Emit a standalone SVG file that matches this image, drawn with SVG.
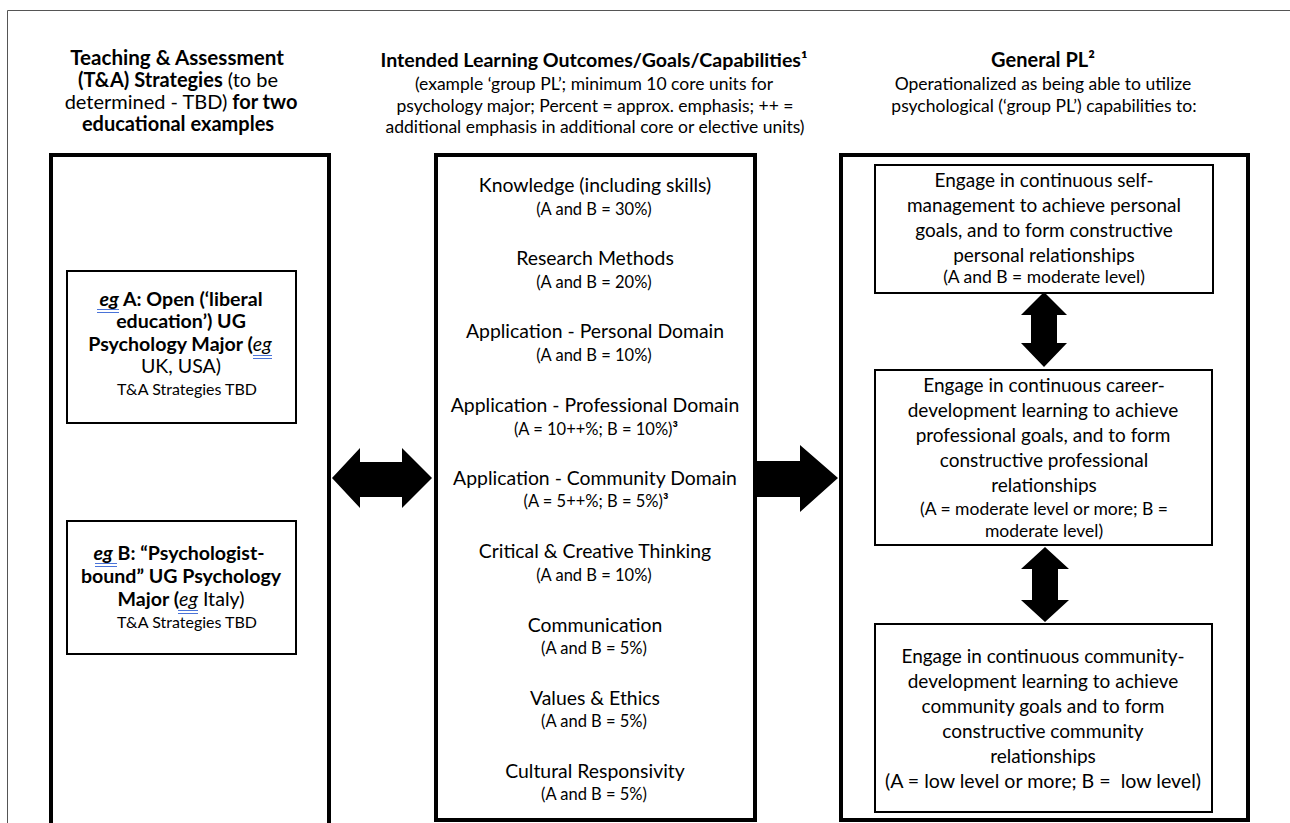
<svg xmlns="http://www.w3.org/2000/svg" width="1290" height="823" viewBox="0 0 1290 823">
<style>
text{font-family:Lato,"Liberation Sans",sans-serif;fill:#000;text-anchor:middle}
.h{font-size:20px;font-weight:bold}
.hs{font-size:17.5px}
.b{font-weight:bold}
.n{font-weight:normal}
.i{font-style:italic}
.t{font-size:19.4px}
.s{font-size:16.5px}
.rt{font-size:19px}
.rs{font-size:17.5px}
.lt{font-size:19.6px}
.ls{font-size:16px}
.big{fill:#fff;stroke:#000;stroke-width:4}
.box{fill:#fff;stroke:#000;stroke-width:2}
.sq{stroke:#4a73d8;stroke-width:1;fill:none}
.arr{fill:#000;stroke:none}
</style>
<rect width="1290" height="823" fill="#fff"/>
<path d="M7.5 823V10.5H1290" fill="none" stroke="#555" stroke-width="1"/>

<g id="heading-left">
<text class="h" x="177" y="65" style="font-size:20.6px">Teaching &amp; Assessment</text>
<text class="h" x="178" y="87">(T&amp;A) Strategies<tspan class="n"> (to be</tspan></text>
<text class="h" x="181" y="109"><tspan class="n">determined - TBD)</tspan> for two</text>
<text class="h" x="178" y="131">educational examples</text>
</g>

<g id="heading-middle">
<text class="h" x="594" y="67" style="font-size:19.6px">Intended Learning Outcomes/Goals/Capabilities¹</text>
<text class="hs" x="594" y="90">(example ‘group PL’; minimum 10 core units for</text>
<text class="hs" x="595" y="112">psychology major; Percent = approx. emphasis; ++ =</text>
<text class="hs" x="595" y="133">additional emphasis in additional core or elective units)</text>
</g>

<g id="heading-right">
<text class="h" x="1043" y="67">General PL²</text>
<text class="hs" x="1043" y="90">Operationalized as being able to utilize</text>
<text class="hs" x="1044" y="112">psychological (‘group PL’) capabilities to:</text>
</g>

<g id="node-left">
<rect class="big" x="51" y="155" width="278" height="680"/>
</g>

<g id="node-A">
<rect class="box" x="67" y="271" width="229" height="152"/>
<text class="lt b" x="181" y="306"><tspan class="i">eg</tspan> A: Open (‘liberal</text>
<text class="lt b" x="181" y="328">education’) UG</text>
<text class="lt b" x="180" y="351">Psychology Major (<tspan class="n i">eg</tspan></text>
<text class="lt" x="181" y="373">UK, USA)</text>
<text class="ls" x="187" y="395">T&amp;A Strategies TBD</text>
<path class="sq" d="M97 309.5h22M97 312.5h22M253 355.5h19M253 358.5h19"/>
</g>

<g id="node-B">
<rect class="box" x="67" y="521" width="229" height="133"/>
<text class="lt b" x="179" y="560"><tspan class="i">eg</tspan> B: “Psychologist-</text>
<text class="lt b" x="181" y="583">bound” UG Psychology</text>
<text class="lt b" x="181" y="606">Major (<tspan class="n i">eg</tspan><tspan class="n"> Italy)</tspan></text>
<text class="ls" x="187" y="628">T&amp;A Strategies TBD</text>
<path class="sq" d="M95 563.5h22M95 566.5h22M178 610.5h20M178 613.5h20"/>
</g>

<g id="node-middle">
<rect class="big" x="436" y="155" width="319" height="665"/>
<text class="t" x="595" y="192">Knowledge (including skills)</text>
<text class="s" x="594" y="215">(A and B = 30%)</text>
<text class="t" x="595" y="265">Research Methods</text>
<text class="s" x="594" y="288">(A and B = 20%)</text>
<text class="t" x="595" y="338">Application - Personal Domain</text>
<text class="s" x="594" y="361">(A and B = 10%)</text>
<text class="t" x="595" y="412">Application - Professional Domain</text>
<text class="s" x="596" y="435">(A = 10++%; B = 10%)<tspan class="b">³</tspan></text>
<text class="t" x="595" y="485">Application - Community Domain</text>
<text class="s" x="596" y="507">(A = 5++%; B = 5%)<tspan class="b">³</tspan></text>
<text class="t" x="595" y="558">Critical &amp; Creative Thinking</text>
<text class="s" x="594" y="581">(A and B = 10%)</text>
<text class="t" x="595" y="632">Communication</text>
<text class="s" x="594" y="654">(A and B = 5%)</text>
<text class="t" x="595" y="705">Values &amp; Ethics</text>
<text class="s" x="594" y="727">(A and B = 5%)</text>
<text class="t" x="595" y="778">Cultural Responsivity</text>
<text class="s" x="594" y="800">(A and B = 5%)</text>
</g>

<g id="node-right">
<rect class="big" x="841" y="155" width="407" height="665"/>
</g>

<g id="node-r1">
<rect class="box" x="875" y="165" width="338" height="128"/>
<text class="rt" x="1044" y="187">Engage in continuous self-</text>
<text class="rt" x="1044" y="212">management to achieve personal</text>
<text class="rt" x="1044" y="237">goals, and to form constructive</text>
<text class="rt" x="1044" y="262">personal relationships</text>
<text class="rs" x="1044" y="283">(A and B = moderate level)</text>
</g>

<g id="node-r2">
<rect class="box" x="875" y="370" width="337" height="175"/>
<text class="rt" x="1044" y="392">Engage in continuous career-</text>
<text class="rt" x="1043" y="417">development learning to achieve</text>
<text class="rt" x="1043" y="442">professional goals, and to form</text>
<text class="rt" x="1044" y="467">constructive professional</text>
<text class="rt" x="1044" y="492">relationships</text>
<text class="rs" x="1044" y="515">(A = moderate level or more; B =</text>
<text class="rs" x="1044" y="537">moderate level)</text>
</g>

<g id="node-r3">
<rect class="box" x="875" y="624" width="337" height="188"/>
<text class="rt" x="1043" y="663">Engage in continuous community-</text>
<text class="rt" x="1043" y="688">development learning to achieve</text>
<text class="rt" x="1043" y="713">community goals and to form</text>
<text class="rt" x="1043" y="738">constructive community</text>
<text class="rt" x="1043" y="763">relationships</text>
<text class="rt" x="1043" y="788" style="font-size:19.6px" xml:space="preserve">(A = low level or more; B =  low level)</text>
</g>

<g id="connectors">
<polygon class="arr" points="332,478 360,448 360,462 402,462 402,448 432,478 402,508 402,497 360,497 360,508"/>
<polygon class="arr" points="755,461 800,461 800,445 838,478 800,512 800,497 755,497"/>
<polygon class="arr" points="1044,292 1067,315 1057,315 1057,343 1067,343 1044,367 1021,343 1031,343 1031,315 1021,315"/>
<polygon class="arr" points="1045,547 1069,569 1058,569 1058,600 1069,600 1045,622 1021,600 1032,600 1032,569 1021,569"/>
</g>
</svg>
